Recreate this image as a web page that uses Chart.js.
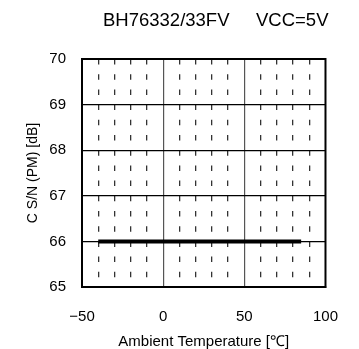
<!DOCTYPE html>
<html>
<head>
<meta charset="utf-8">
<script src="https://cdn.jsdelivr.net/npm/chart.js@4"></script>
<style>
    body { margin: 0; background: #fff; }
    canvas { display: block; }
</style>
</head>
<body>
<canvas id="chart" width="359" height="349"></canvas>
<script>
// DATA
const temperatures = [-40, 0, 25, 50, 85];
const snValues = [66, 66, 66, 66, 66];
const titleParts = ["BH76332/33FV", "VCC=5V"];
const xTickLabels = [-50, 0, 50, 100];
const yTickLabels = [65, 66, 67, 68, 69, 70];

const FONT = "'Liberation Sans', Arial, sans-serif";

// DRAW THE TWO-PART TITLE ABOVE THE PLOT
const titlePlugin = {
    id: "titleText",
    afterDraw(chart) {
        const ctx = chart.ctx;
        ctx.save();
        ctx.fillStyle = "#000";
        ctx.font = "18.5px " + FONT;
        ctx.textBaseline = "alphabetic";
        ctx.textAlign = "left";
        ctx.fillText(titleParts[0], 103, 26);
        ctx.fillText(titleParts[1], 256, 26);
        ctx.restore();
    }
};

function isMajor(value) {
    return value % 50 === 0;
}

new Chart(document.getElementById("chart"), {
    type: "line",
    data: {
        datasets: [{
            data: temperatures.map((t, i) => ({ x: t, y: snValues[i] })),
            borderColor: "#000",
            borderWidth: 4,
            pointRadius: 0,
            tension: 0
        }]
    },
    options: {
        responsive: false,
        animation: false,
        layout: { padding: { top: 59, right: 32, bottom: 0, left: 26 } },
        plugins: {
            legend: { display: false },
            tooltip: { enabled: false }
        },
        scales: {
            x: {
                type: "linear",
                min: -50,
                max: 100,
                afterBuildTicks(scale) {
                    const ticks = [];
                    for (let v = -50; v <= 100; v += 10) ticks.push({ value: v });
                    scale.ticks = ticks;
                },
                afterFit(scale) { scale.height = 349 - 287; },
                ticks: {
                    autoSkip: false,
                    maxRotation: 0,
                    padding: 21,
                    color: "#000",
                    font: { family: FONT, size: 15 },
                    callback: value => xTickLabels.includes(value)
                        ? (value < 0 ? "\u2212" + Math.abs(value) : String(value))
                        : ""
                },
                grid: {
                    drawTicks: false,
                    tickLength: 0,
                    color: ctx => {
                        const v = ctx.tick ? ctx.tick.value : 0;
                        if (v === -50 || v === 100) return "rgba(0,0,0,0)";
                        return isMajor(v) ? "#555" : "#333";
                    },
                    lineWidth: ctx => {
                        const v = ctx.tick ? ctx.tick.value : 0;
                        return isMajor(v) ? 1.2 : 1.3;
                    }
                },
                border: {
                    display: true,
                    color: "#000",
                    width: 2,
                    dash: ctx => {
                        const v = ctx.tick ? ctx.tick.value : 0;
                        return isMajor(v) ? [] : [5.5, 9.7];
                    }
                },
                title: {
                    display: true,
                    text: "Ambient Temperature [\u2103]",
                    color: "#000",
                    font: { family: FONT, size: 15, lineHeight: 1 },
                    padding: 0
                }
            },
            y: {
                min: 65,
                max: 70,
                afterBuildTicks(scale) {
                    scale.ticks = yTickLabels.map(v => ({ value: v }));
                },
                afterFit(scale) { scale.width = 82 - 26; },
                ticks: {
                    padding: 16,
                    color: "#000",
                    font: { family: FONT, size: 15 }
                },
                grid: {
                    drawTicks: false,
                    tickLength: 0,
                    color: ctx => {
                        const v = ctx.tick ? ctx.tick.value : 0;
                        return (v === 65 || v === 70) ? "rgba(0,0,0,0)" : "#000";
                    },
                    lineWidth: 1.2
                },
                border: { display: true, color: "#000", width: 2 },
                title: {
                    display: true,
                    text: "C S/N (PM) [dB]",
                    color: "#000",
                    font: { family: FONT, size: 14, lineHeight: 1 },
                    padding: 0
                }
            }
        }
    },
    plugins: [titlePlugin, {
        // CLOSE THE FRAME ON TOP AND RIGHT
        id: "frame",
        afterDatasetsDraw(chart) {
            const a = chart.chartArea;
            const ctx = chart.ctx;
            ctx.save();
            ctx.strokeStyle = "#000";
            ctx.lineWidth = 2;
            ctx.strokeRect(a.left, a.top, a.right - a.left, a.bottom - a.top);
            ctx.restore();
        }
    }]
});
</script>
</body>
</html>
